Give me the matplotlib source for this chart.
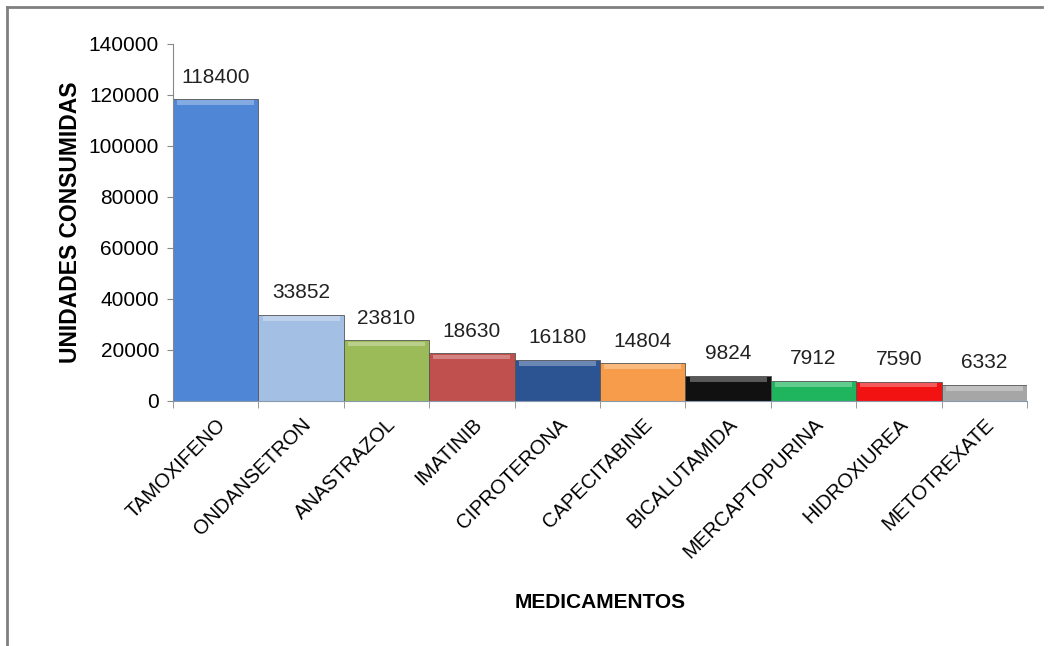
import matplotlib.pyplot as plt
import numpy as np
from matplotlib.lines import Line2D

plt.rcParams['font.family'] = ['Liberation Sans', 'DejaVu Sans']

# ---- Data ----
medicamentos = ["TAMOXIFENO", "ONDANSETRON", "ANASTRAZOL", "IMATINIB",
                "CIPROTERONA", "CAPECITABINE", "BICALUTAMIDA",
                "MERCAPTOPURINA", "HIDROXIUREA", "METOTREXATE"]
unidades = [118400, 33852, 23810, 18630, 16180, 14804, 9824, 7912, 7590, 6332]
colores = ["#4F86D6", "#A3BFE4", "#9BBB59", "#C0504D", "#2C5392",
           "#F79C4A", "#111111", "#1FB45E", "#F21212", "#A6A6A6"]
y_ticks = [0, 20000, 40000, 60000, 80000, 100000, 120000, 140000]


def lighten(c, amount):
    rgb = np.array(plt.matplotlib.colors.to_rgb(c))
    return tuple(rgb + (1 - rgb) * amount)


fig = plt.figure(figsize=(10.53, 6.46), dpi=100)
ax = fig.add_axes([0.1643, 0.3793, 0.8110, 0.5526])

x = np.arange(len(medicamentos))
bars = ax.bar(x, unidades, width=1.0, color=colores,
              edgecolor="#555555", linewidth=0.6, zorder=2)

# light strip at the top of each bar for the bevel look
for xi, val, col in zip(x, unidades, colores):
    ax.bar(xi, 1800, bottom=val - 2300, width=0.9, color=lighten(col, 0.3),
           linewidth=0, zorder=3)

for xi, val in zip(x, unidades):
    ax.annotate(f"{val}", (xi, val), xytext=(0, 9), textcoords="offset points",
                ha="center", va="bottom", fontsize=15, color="#222222")

ax.set_xlim(-0.5, len(medicamentos) - 0.5)
ax.set_ylim(0, 140000)
ax.set_yticks(y_ticks)
ax.set_yticklabels([str(t) for t in y_ticks], fontsize=15)
ax.set_xticks(x)
ax.set_xticklabels(medicamentos, rotation=45, ha="right",
                   rotation_mode="anchor", fontsize=14.5)
ax.set_xticks(np.arange(len(medicamentos) + 1) - 0.5, minor=True)
ax.tick_params(axis="x", which="major", length=0, pad=10)
ax.tick_params(axis="x", which="minor", length=5, color="#888888")
ax.tick_params(axis="y", length=4, color="#888888", pad=6)

for side in ["top", "right"]:
    ax.spines[side].set_visible(False)
ax.spines["left"].set_color("#888888")
ax.spines["bottom"].set_color("#8899AA")

ax.set_ylabel("UNIDADES CONSUMIDAS", fontsize=16.5, fontweight="bold", labelpad=5)
ax.set_xlabel("MEDICAMENTOS", fontsize=15, fontweight="bold", labelpad=22)

# outer frame lines (left and top) like the reference
fig.add_artist(Line2D([0.0066, 0.0066], [0.0, 0.989], transform=fig.transFigure,
                      color="#808080", linewidth=2))
fig.add_artist(Line2D([0.0066, 0.99], [0.989, 0.989], transform=fig.transFigure,
                      color="#808080", linewidth=2))

fig.savefig("out.png", dpi=100)
